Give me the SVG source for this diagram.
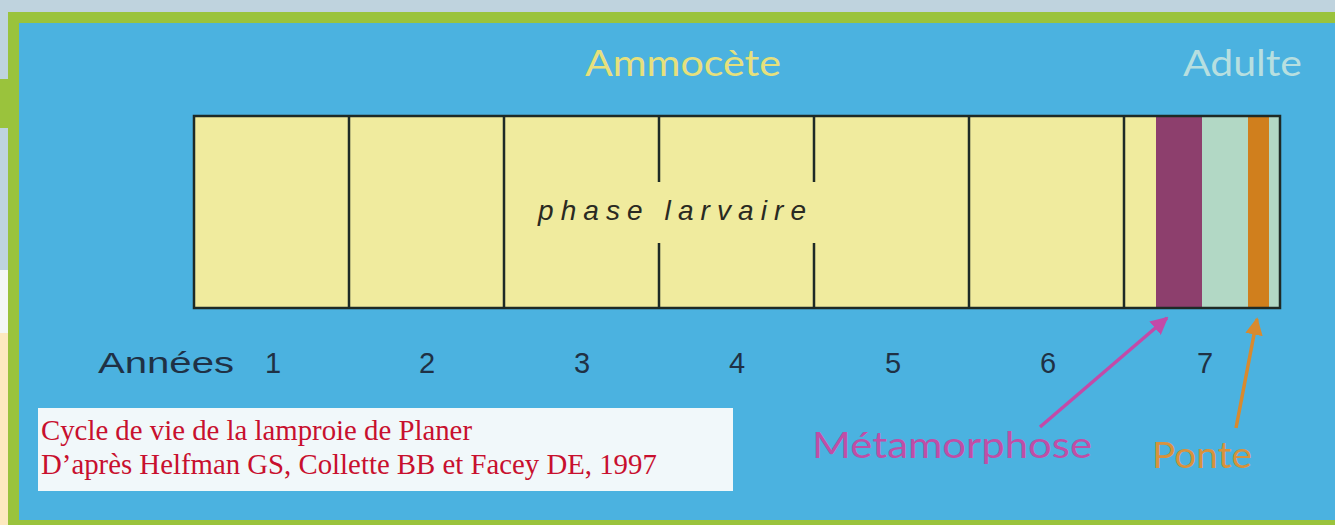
<svg xmlns="http://www.w3.org/2000/svg" width="1335" height="525" viewBox="0 0 1335 525">
<style>
.yr{fill:#f0eb9e}
.div{stroke:#1e2a26;stroke-width:2.5;fill:none}
.num{font-family:"Liberation Sans",Arial,sans-serif;font-size:29px;fill:#1f3145;text-anchor:middle}
.cap{font-family:"Liberation Serif","Times New Roman",serif;font-size:28.8px;fill:#c8102e}
</style>
<defs>
<marker id="am" viewBox="0 0 10 10" refX="9" refY="5" markerWidth="5" markerHeight="5" orient="auto"><path d="M0,0 L10,5 L0,10 z" fill="#c34aa8"/></marker>
<marker id="ao" viewBox="0 0 10 10" refX="9" refY="5" markerWidth="5" markerHeight="5" orient="auto"><path d="M0,0 L10,5 L0,10 z" fill="#d88a2e"/></marker>
</defs>
<g id="background">
<rect x="0" y="0" width="1335" height="525" fill="#bfd3de"/>
<rect x="0" y="270" width="8" height="63" fill="#f4f7f6"/>
<rect x="0" y="333" width="8" height="192" fill="#fde9bf"/>
<rect x="0" y="79" width="8" height="49" fill="#9ac33c"/>
<rect x="8" y="12" width="1327" height="513" fill="#9ac33c"/>
<rect x="19" y="23" width="1316" height="497" fill="#4bb2e0"/>
</g>
<g id="titles" font-family="Lato,'Liberation Sans',sans-serif" font-size="37">
<text x="585" y="76" textLength="196" lengthAdjust="spacingAndGlyphs" fill="#e6e07c">Ammocète</text>
<text x="1183" y="76" textLength="119" lengthAdjust="spacingAndGlyphs" fill="#b7dfe0">Adulte</text>
</g>
<g id="bar">
<rect class="yr" x="194" y="116" width="930" height="192"/>
<rect class="yr" x="1124" y="116" width="32" height="192"/>
<rect x="1156" y="116" width="46" height="192" fill="#8d3f6d"/>
<rect x="1202" y="116" width="46" height="192" fill="#b2d8c5"/>
<rect x="1248" y="116" width="21" height="192" fill="#d07f1d"/>
<rect x="1269" y="116" width="11" height="192" fill="#b2d8c5"/>
<rect class="div" x="194" y="116" width="1086" height="192"/>
<path class="div" d="M349,116V308 M504,116V308 M969,116V308 M1124,116V308 M659,116V182 M659,243V308 M814,116V182 M814,243V308"/>
<text x="538" y="220" textLength="268" lengthAdjust="spacing" font-family="'Liberation Sans',Arial,sans-serif" font-style="italic" font-size="28" fill="#2a2a22">phase larvaire</text>
</g>
<g id="years">
<text x="166" y="373" class="num" font-size="34" textLength="136" lengthAdjust="spacingAndGlyphs">Années</text>
<text x="273" y="373" class="num" fill="#3b5470">1</text>
<text x="427" y="373" class="num">2</text>
<text x="582" y="373" class="num">3</text>
<text x="737" y="373" class="num">4</text>
<text x="893" y="373" class="num">5</text>
<text x="1048" y="373" class="num">6</text>
<text x="1205" y="373" class="num">7</text>
</g>
<g id="caption">
<rect x="38" y="408" width="695" height="83" fill="#f1f8fa"/>
<text x="41" y="440" class="cap">Cycle de vie de la lamproie de Planer</text>
<text x="41" y="474" class="cap">D’après Helfman GS, Collette BB et Facey DE, 1997</text>
</g>
<g id="labels" font-family="Lato,'Liberation Sans',sans-serif" font-size="37">
<text x="812" y="458" textLength="280" lengthAdjust="spacingAndGlyphs" fill="#c04ea6">Métamorphose</text>
<text x="1152" y="468" textLength="100" lengthAdjust="spacingAndGlyphs" fill="#d8923c">Ponte</text>
</g>
<g id="connectors" stroke-width="3.5" fill="none">
<line x1="1040" y1="427" x2="1167" y2="318" stroke="#c34aa8" marker-end="url(#am)"/>
<line x1="1236" y1="428" x2="1257" y2="319" stroke="#d88a2e" marker-end="url(#ao)"/>
</g>
</svg>
